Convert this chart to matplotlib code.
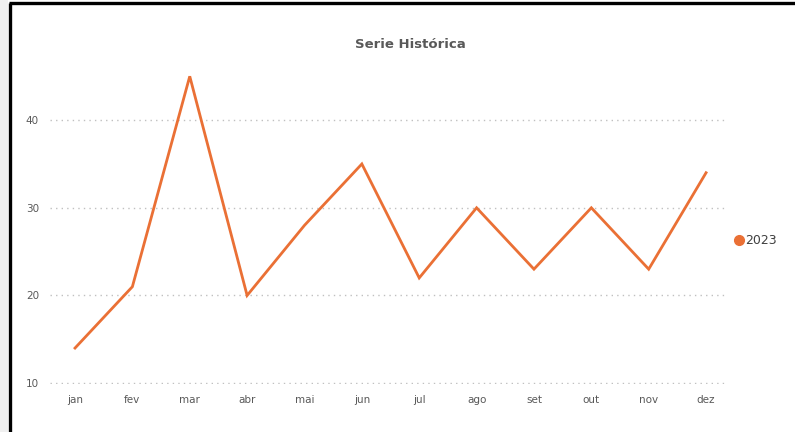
import matplotlib.pyplot as plt
from matplotlib.patches import Rectangle
from matplotlib.lines import Line2D

months = ["jan", "fev", "mar", "abr", "mai", "jun", "jul", "ago", "set", "out", "nov", "dez"]
values_2023 = [14, 21, 45, 20, 28, 35, 22, 30, 23, 30, 23, 34]
y_ticks = [10, 20, 30, 40]

ORANGE = "#EA7035"
GREY_TXT = "#595959"

fig = plt.figure(figsize=(7.95, 4.32), dpi=100)
fig.patch.set_facecolor("white")

# frame pieces seen in the screenshot (grey strip + thick black edge)
fig.add_artist(Rectangle((0, 0), 8 / 795, 1, transform=fig.transFigure,
                         facecolor="#f0f0f0", edgecolor="none"))
fig.add_artist(Line2D([10 / 795, 10 / 795], [0, 1 - 3 / 432], transform=fig.transFigure,
                      color="black", lw=2.4, solid_capstyle="butt"))
fig.add_artist(Line2D([9 / 795, 1], [1 - 3 / 432, 1 - 3 / 432], transform=fig.transFigure,
                      color="black", lw=2.4, solid_capstyle="butt"))

ax = fig.add_axes([50 / 795, 48 / 432, 675 / 795, 334 / 432])
x = list(range(len(months)))
ax.plot(x, values_2023, color=ORANGE, lw=2.0, solid_joinstyle="miter", label="2023")

ax.set_xlim(-0.436, 11.33)
ax.set_ylim(9.9, 48)
ax.set_yticks(y_ticks)
ax.set_xticks(x)
ax.set_xticklabels(months)
ax.tick_params(axis="both", length=0, labelsize=7.5, colors=GREY_TXT)
ax.tick_params(axis="x", pad=8)
ax.tick_params(axis="y", pad=8)
ax.grid(axis="y", linestyle=(0, (1, 3)), color="#c0c0c0", lw=1.0)
ax.set_axisbelow(True)
for s in ax.spines.values():
    s.set_visible(False)

fig.text(410 / 795, 1 - 45 / 432, "Serie Histórica", ha="center", va="center",
         fontsize=9.5, fontweight="bold", color=GREY_TXT)

# legend on the right
fig.legend(handles=[Line2D([], [], marker="o", ls="none", color=ORANGE, markersize=7)],
           labels=["2023"], loc="center left", bbox_to_anchor=(728 / 795, 1 - 241 / 432),
           frameon=False, fontsize=9, handletextpad=0.0, handlelength=1.0,
           labelcolor="#404040", borderaxespad=0)

fig.savefig("out.png", dpi=100)
